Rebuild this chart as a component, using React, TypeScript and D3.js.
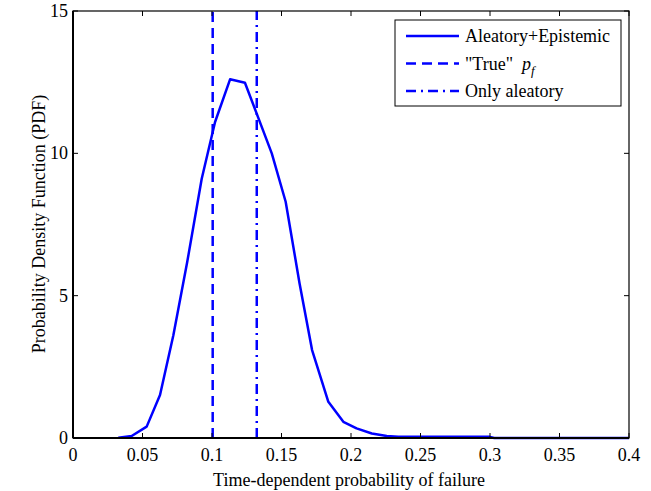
import React from "react";
import * as d3 from "d3";

const pdfX = [0.0326, 0.0422, 0.053, 0.0626, 0.0722, 0.0822, 0.0926, 0.1022, 0.113, 0.1237, 0.143, 0.153, 0.163, 0.172, 0.1837, 0.1945, 0.204, 0.215, 0.2257, 0.234, 0.3, 0.303, 0.4];
const pdfY = [0.01, 0.07, 0.4, 1.51, 3.61, 6.19, 9.11, 11.1, 12.6, 12.48, 10.0, 8.3, 5.43, 3.09, 1.27, 0.57, 0.34, 0.16, 0.07, 0.04, 0.04, 0.0, 0.0];
const truePf = 0.1005;
const onlyAleatory = 0.1322;
const xTicks = [0, 0.05, 0.1, 0.15, 0.2, 0.25, 0.3, 0.35, 0.4];
const xTickLabels = ["0", "0.05", "0.1", "0.15", "0.2", "0.25", "0.3", "0.35", "0.4"];
const yTicks = [0, 5, 10, 15];
const legendLabels = ["Aleatory+Epistemic", "\"True\"", "Only aleatory"];

export default function App() {
  const W = 651, H = 491;
  const L = 73, R = 629, T = 11, B = 438;
  const x = d3.scaleLinear().domain([0, 0.4]).range([L, R]);
  const y = d3.scaleLinear().domain([0, 15]).range([B, T]);
  const line = d3.line<number>().x((_, i) => x(pdfX[i])).y((d) => y(d));
  const ts: React.CSSProperties = { fontFamily: '"Liberation Serif", "Times New Roman", Times, serif', fontSize: 18 };
  const blue = "#0000FF";
  const tl = 5;
  const lg = { x0: 395, y0: 20, x1: 621, y1: 106 };
  const rows = [36, 63.5, 91];
  const dashes = [undefined, "10,6", "10,5,2,5"];
  return (
    <svg width={W} height={H} style={{ position: "absolute", left: 0, top: 0, background: "#fff" }}>
      <rect x={0} y={0} width={W} height={H} fill="#fff" />
      <path d={line(pdfY) || ""} fill="none" stroke={blue} strokeWidth={2.5} strokeLinejoin="round" />
      <line x1={x(truePf)} x2={x(truePf)} y1={y(0)} y2={y(15)} stroke={blue} strokeWidth={2.5} strokeDasharray="10,6" />
      <line x1={x(onlyAleatory)} x2={x(onlyAleatory)} y1={y(0)} y2={y(15)} stroke={blue} strokeWidth={2.5} strokeDasharray="10,5,2,5" />
      <rect x={L} y={T} width={R - L} height={B - T} fill="none" stroke="#000" strokeWidth={1.2} />
      <line x1={L} x2={R} y1={B} y2={B} stroke="#000" strokeWidth={2} />
      <line x1={L} x2={L} y1={T} y2={B} stroke="#000" strokeWidth={2} />
      {xTicks.map((t, i) => (
        <g key={"xt" + i}>
          <line x1={x(t)} x2={x(t)} y1={B} y2={B - tl} stroke="#000" />
          <line x1={x(t)} x2={x(t)} y1={T} y2={T + tl} stroke="#000" />
          <text x={x(t)} y={461} style={ts} textAnchor="middle">{xTickLabels[i]}</text>
        </g>
      ))}
      {yTicks.map((t, i) => (
        <g key={"yt" + i}>
          <line x1={L} x2={L + tl} y1={y(t)} y2={y(t)} stroke="#000" />
          <line x1={R} x2={R - tl} y1={y(t)} y2={y(t)} stroke="#000" />
          <text x={68} y={y(t) + 6} style={ts} textAnchor="end">{t}</text>
        </g>
      ))}
      <text x={349} y={486} style={ts} textAnchor="middle">Time-dependent probability of failure</text>
      <text transform={`translate(45,224) rotate(-90)`} style={ts} textAnchor="middle">Probability Density Function (PDF)</text>
      <rect x={lg.x0} y={lg.y0} width={lg.x1 - lg.x0} height={lg.y1 - lg.y0} fill="#fff" stroke="#000" strokeWidth={1} />
      {legendLabels.map((lab, i) => (
        <g key={"lg" + i}>
          <line x1={406} x2={459} y1={rows[i]} y2={rows[i]} stroke={blue} strokeWidth={2.5} strokeDasharray={dashes[i]} />
          <text x={465} y={rows[i] + 6} style={ts}>
            {lab}
            {i === 1 ? (
              <tspan>
                <tspan dx={9} fontStyle="italic">p</tspan>
                <tspan fontStyle="italic" fontSize={13} dy={5}>f</tspan>
              </tspan>
            ) : null}
          </text>
        </g>
      ))}
    </svg>
  );
}
